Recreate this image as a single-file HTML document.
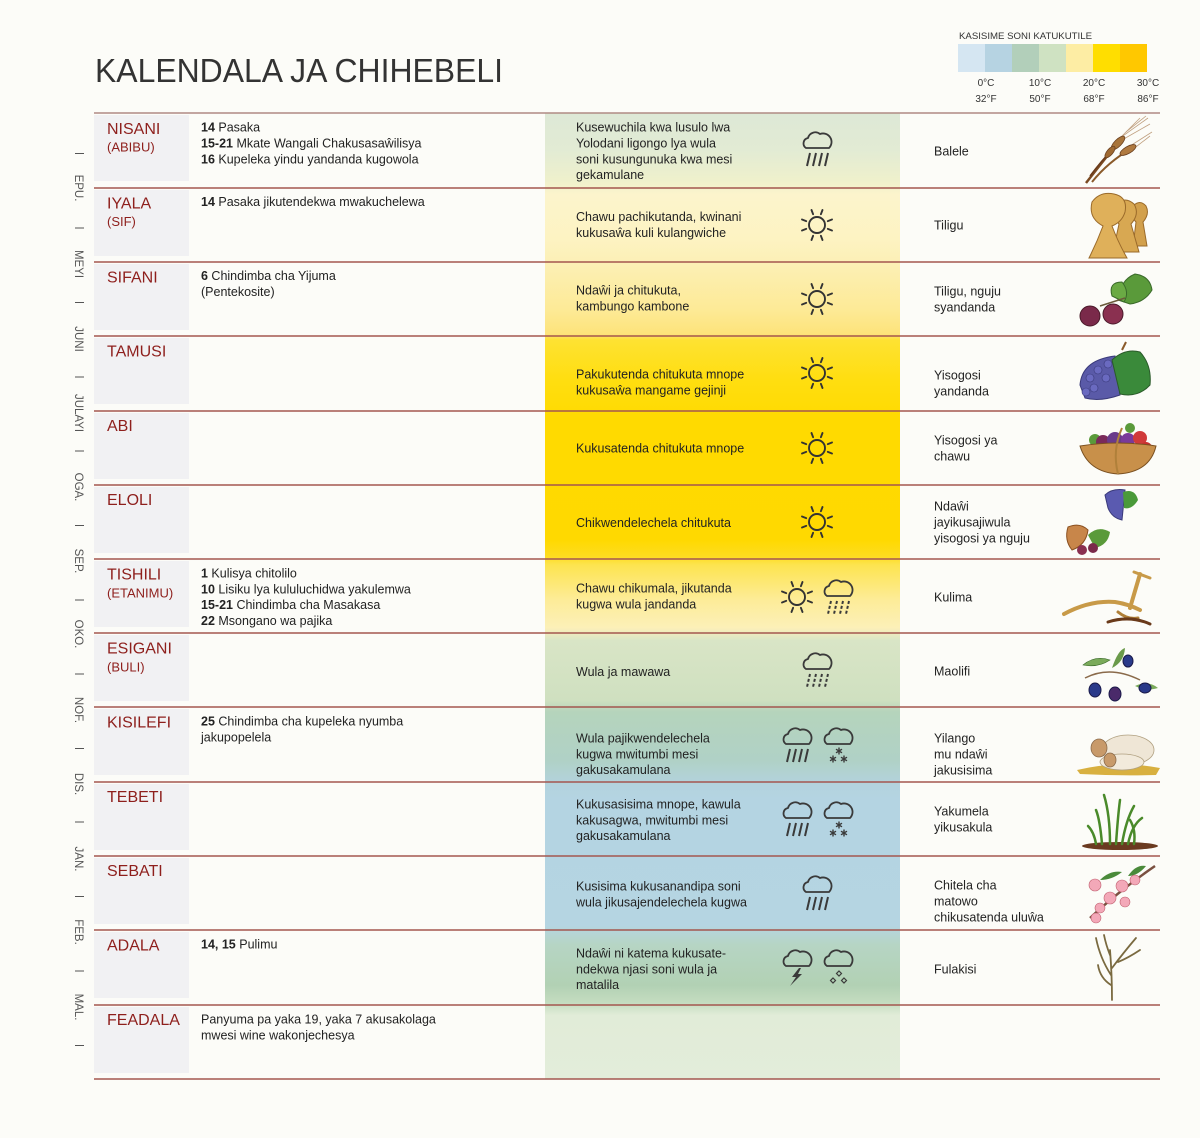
<!DOCTYPE html>
<html><head><meta charset="utf-8">
<style>
html,body{margin:0;padding:0;background:#fcfcf8;}
svg{display:block}
text{font-family:"Liberation Sans",sans-serif;}
.t{font-size:12.5px;fill:#222;}
.m{font-size:16px;fill:#8e1f1c;}
.s{font-size:13px;fill:#8e1f1c;}
.v{font-size:11.5px;fill:#555;}
.lg{font-size:10px;fill:#333;}
</style></head><body>
<svg width="1200" height="1138" viewBox="0 0 1200 1138" xmlns="http://www.w3.org/2000/svg">
<defs>
<linearGradient id="clim" gradientUnits="userSpaceOnUse" x1="0" y1="113" x2="0" y2="1079">
<stop offset="0" stop-color="#dde8d6"/>
<stop offset=".038" stop-color="#e2ebd4"/>
<stop offset=".069" stop-color="#eef0cc"/>
<stop offset=".085" stop-color="#fcf4cc"/>
<stop offset=".131" stop-color="#fdf3c2"/>
<stop offset=".154" stop-color="#fcf0b6"/>
<stop offset=".204" stop-color="#fdea96"/>
<stop offset=".229" stop-color="#fde37a"/>
<stop offset=".235" stop-color="#fee232"/>
<stop offset=".276" stop-color="#ffde10"/>
<stop offset=".318" stop-color="#ffda00"/>
<stop offset=".442" stop-color="#ffd900"/>
<stop offset=".459" stop-color="#fedc20"/>
<stop offset=".468" stop-color="#fde450"/>
<stop offset=".504" stop-color="#fdec98"/>
<stop offset=".533" stop-color="#fcf0b8"/>
<stop offset=".546" stop-color="#d9e5c6"/>
<stop offset=".608" stop-color="#cfe0c0"/>
<stop offset=".620" stop-color="#b5d4bc"/>
<stop offset=".670" stop-color="#b0d1c6"/>
<stop offset=".696" stop-color="#b3d3de"/>
<stop offset=".711" stop-color="#b4d4e2"/>
<stop offset=".841" stop-color="#b5d5e2"/>
<stop offset=".861" stop-color="#b6d5c4"/>
<stop offset=".903" stop-color="#b2d1b4"/>
<stop offset=".921" stop-color="#c4dcc0"/>
<stop offset=".934" stop-color="#e1ecd8"/>
<stop offset="1" stop-color="#e3edda"/>
</linearGradient>
<g id="sun" stroke="#333" stroke-width="1.9" fill="none" stroke-linecap="round">
<circle r="8"/>
<line x1="3.9" y1="-10.8" x2="5.5" y2="-15"/>
<line x1="-3.9" y1="-10.8" x2="-5.5" y2="-15"/>
<line x1="3.9" y1="10.8" x2="5.5" y2="15"/>
<line x1="-3.9" y1="10.8" x2="-5.5" y2="15"/>
<line x1="10.8" y1="3.9" x2="15" y2="5.5"/>
<line x1="10.8" y1="-3.9" x2="15" y2="-5.5"/>
<line x1="-10.8" y1="3.9" x2="-15" y2="5.5"/>
<line x1="-10.8" y1="-3.9" x2="-15" y2="-5.5"/>
</g>
<path id="cl" d="M -11 0 A 5.5 5.5 0 0 1 -9 -10 A 7.5 7.5 0 0 1 3 -14 A 8.5 8.5 0 0 1 12 0 Z" fill="none" stroke="#3a3a3a" stroke-width="1.8" stroke-linejoin="round"/>
<g id="rain" stroke="#3a3a3a" stroke-width="2" stroke-linecap="butt">
<line x1="-7" y1="5" x2="-10" y2="18"/>
<line x1="-1" y1="5" x2="-4" y2="18"/>
<line x1="5" y1="5" x2="2" y2="18"/>
<line x1="11" y1="5" x2="8" y2="18"/>
</g>
<g id="drz" stroke="#3a3a3a" stroke-width="2" stroke-dasharray="3 2">
<line x1="-7" y1="5" x2="-10" y2="18"/>
<line x1="-1" y1="5" x2="-4" y2="18"/>
<line x1="5" y1="5" x2="2" y2="18"/>
<line x1="11" y1="5" x2="8" y2="18"/>
</g>
<g id="ast" stroke="#3a3a3a" stroke-width="1.4">
<line x1="0" y1="-3.5" x2="0" y2="3.5"/>
<line x1="-3" y1="-1.8" x2="3" y2="1.8"/>
<line x1="-3" y1="1.8" x2="3" y2="-1.8"/>
</g>
<g id="snow"><use href="#ast" x="1" y="7"/><use href="#ast" x="-5" y="15"/><use href="#ast" x="6" y="15"/></g>
</defs>

<rect width="1200" height="1138" fill="#fcfcf8"/>

<!-- Title -->
<text x="95" y="82" font-size="33" fill="#333" textLength="408" lengthAdjust="spacingAndGlyphs">KALENDALA JA CHIHEBELI</text>

<!-- Legend -->
<text x="959" y="39" font-size="9.2" fill="#333" textLength="133" lengthAdjust="spacingAndGlyphs">KASISIME SONI KATUKUTILE</text>
<rect x="958" y="44" width="27" height="28" fill="#d5e6f2"/>
<rect x="985" y="44" width="27" height="28" fill="#b6d3e2"/>
<rect x="1012" y="44" width="27" height="28" fill="#b2cfba"/>
<rect x="1039" y="44" width="27" height="28" fill="#cfe2c2"/>
<rect x="1066" y="44" width="27" height="28" fill="#fdeda4"/>
<rect x="1093" y="44" width="27" height="28" fill="#ffde00"/>
<rect x="1120" y="44" width="27" height="28" fill="#ffc800"/>
<g class="lg" text-anchor="middle">
<text x="986" y="86" class="lg">0°C</text><text x="986" y="102" class="lg">32°F</text>
<text x="1040" y="86" class="lg">10°C</text><text x="1040" y="102" class="lg">50°F</text>
<text x="1094" y="86" class="lg">20°C</text><text x="1094" y="102" class="lg">68°F</text>
<text x="1148" y="86" class="lg">30°C</text><text x="1148" y="102" class="lg">86°F</text>
</g>

<!-- Climate column -->
<rect x="545" y="113" width="355" height="966" fill="url(#clim)"/>

<!-- Grey month boxes -->
<g fill="#f1f1f3">
<rect x="94" y="115" width="95" height="66"/>
<rect x="94" y="190" width="95" height="66"/>
<rect x="94" y="264" width="95" height="66"/>
<rect x="94" y="338" width="95" height="66"/>
<rect x="94" y="413" width="95" height="66"/>
<rect x="94" y="487" width="95" height="66"/>
<rect x="94" y="561" width="95" height="66"/>
<rect x="94" y="635" width="95" height="66"/>
<rect x="94" y="709" width="95" height="66"/>
<rect x="94" y="784" width="95" height="66"/>
<rect x="94" y="858" width="95" height="66"/>
<rect x="94" y="932" width="95" height="66"/>
<rect x="94" y="1007" width="95" height="66"/>
</g>

<!-- Row lines -->
<g stroke="#a4564f" stroke-width="1.5">
<line x1="94" y1="113" x2="1160" y2="113" stroke="#b08a84"/>
<line x1="94" y1="188" x2="1160" y2="188"/>
<line x1="94" y1="262" x2="1160" y2="262"/>
<line x1="94" y1="336" x2="1160" y2="336"/>
<line x1="94" y1="411" x2="1160" y2="411"/>
<line x1="94" y1="485" x2="1160" y2="485"/>
<line x1="94" y1="559" x2="1160" y2="559"/>
<line x1="94" y1="633" x2="1160" y2="633"/>
<line x1="94" y1="707" x2="1160" y2="707"/>
<line x1="94" y1="782" x2="1160" y2="782"/>
<line x1="94" y1="856" x2="1160" y2="856"/>
<line x1="94" y1="930" x2="1160" y2="930"/>
<line x1="94" y1="1005" x2="1160" y2="1005"/>
<line x1="94" y1="1079" x2="1160" y2="1079"/>
</g>

<!-- Vertical month labels + ticks -->
<g stroke="#555" stroke-width="1">
<line x1="75" y1="153.5" x2="84" y2="153.5"/>
<line x1="75" y1="228" x2="84" y2="228"/>
<line x1="75" y1="302.5" x2="84" y2="302.5"/>
<line x1="75" y1="377" x2="84" y2="377"/>
<line x1="75" y1="451" x2="84" y2="451"/>
<line x1="75" y1="525.5" x2="84" y2="525.5"/>
<line x1="75" y1="600" x2="84" y2="600"/>
<line x1="75" y1="674" x2="84" y2="674"/>
<line x1="75" y1="748.5" x2="84" y2="748.5"/>
<line x1="75" y1="822" x2="84" y2="822"/>
<line x1="75" y1="896.5" x2="84" y2="896.5"/>
<line x1="75" y1="971" x2="84" y2="971"/>
<line x1="75" y1="1045.5" x2="84" y2="1045.5"/>
</g>
<g class="v" text-anchor="middle">
<text class="v" transform="translate(75,188) rotate(90)">EPU.</text>
<text class="v" transform="translate(75,264) rotate(90)">MEYI</text>
<text class="v" transform="translate(75,339) rotate(90)">JUNI</text>
<text class="v" transform="translate(75,413) rotate(90)">JULAYI</text>
<text class="v" transform="translate(75,487) rotate(90)">OGA.</text>
<text class="v" transform="translate(75,561) rotate(90)">SEP.</text>
<text class="v" transform="translate(75,634) rotate(90)">OKO.</text>
<text class="v" transform="translate(75,710) rotate(90)">NOF.</text>
<text class="v" transform="translate(75,784) rotate(90)">DIS.</text>
<text class="v" transform="translate(75,859) rotate(90)">JAN.</text>
<text class="v" transform="translate(75,932) rotate(90)">FEB.</text>
<text class="v" transform="translate(75,1007) rotate(90)">MAL.</text>
</g>

<!-- Month names -->
<text class="m" x="107" y="134">NISANI</text><text class="s" x="107" y="151.5">(ABIBU)</text>
<text class="m" x="107" y="208.5">IYALA</text><text class="s" x="107" y="226">(SIF)</text>
<text class="m" x="107" y="282.5">SIFANI</text>
<text class="m" x="107" y="356.5">TAMUSI</text>
<text class="m" x="107" y="431">ABI</text>
<text class="m" x="107" y="505">ELOLI</text>
<text class="m" x="107" y="579.5">TISHILI</text><text class="s" x="107" y="597.5">(ETANIMU)</text>
<text class="m" x="107" y="653.5">ESIGANI</text><text class="s" x="107" y="671.5">(BULI)</text>
<text class="m" x="107" y="727.5">KISILEFI</text>
<text class="m" x="107" y="802">TEBETI</text>
<text class="m" x="107" y="876">SEBATI</text>
<text class="m" x="107" y="950.5">ADALA</text>
<text class="m" x="107" y="1025">FEADALA</text>

<!-- Events -->
<text class="t" x="201" y="131.5"><tspan font-weight="bold">14</tspan> Pasaka</text>
<text class="t" x="201" y="147.5"><tspan font-weight="bold">15-21</tspan> Mkate Wangali Chakusasaŵilisya</text>
<text class="t" x="201" y="163.5"><tspan font-weight="bold">16</tspan> Kupeleka yindu yandanda kugowola</text>
<text class="t" x="201" y="206"><tspan font-weight="bold">14</tspan> Pasaka jikutendekwa mwakuchelewa</text>
<text class="t" x="201" y="280"><tspan font-weight="bold">6</tspan> Chindimba cha Yijuma</text>
<text class="t" x="201" y="296">(Pentekosite)</text>
<text class="t" x="201" y="577.5"><tspan font-weight="bold">1</tspan> Kulisya chitolilo</text>
<text class="t" x="201" y="593.5"><tspan font-weight="bold">10</tspan> Lisiku lya kululuchidwa yakulemwa</text>
<text class="t" x="201" y="609"><tspan font-weight="bold">15-21</tspan> Chindimba cha Masakasa</text>
<text class="t" x="201" y="625"><tspan font-weight="bold">22</tspan> Msongano wa pajika</text>
<text class="t" x="201" y="725.5"><tspan font-weight="bold">25</tspan> Chindimba cha kupeleka nyumba</text>
<text class="t" x="201" y="741.5">jakupopelela</text>
<text class="t" x="201" y="948.5"><tspan font-weight="bold">14, 15</tspan> Pulimu</text>
<text class="t" x="201" y="1023.5">Panyuma pa yaka 19, yaka 7 akusakolaga</text>
<text class="t" x="201" y="1039.5">mwesi wine wakonjechesya</text>

<!-- Climate text -->
<text class="t" x="576" y="131.5">Kusewuchila kwa lusulo lwa</text>
<text class="t" x="576" y="147.5">Yolodani ligongo lya wula</text>
<text class="t" x="576" y="163.5">soni kusungunuka kwa mesi</text>
<text class="t" x="576" y="179">gekamulane</text>
<text class="t" x="576" y="221">Chawu pachikutanda, kwinani</text>
<text class="t" x="576" y="237">kukusaŵa kuli kulangwiche</text>
<text class="t" x="576" y="294.5">Ndaŵi ja chitukuta,</text>
<text class="t" x="576" y="310.5">kambungo kambone</text>
<text class="t" x="576" y="378.5">Pakukutenda chitukuta mnope</text>
<text class="t" x="576" y="394.5">kukusaŵa mangame gejinji</text>
<text class="t" x="576" y="452.5">Kukusatenda chitukuta mnope</text>
<text class="t" x="576" y="527">Chikwendelechela chitukuta</text>
<text class="t" x="576" y="592.5">Chawu chikumala, jikutanda</text>
<text class="t" x="576" y="608.5">kugwa wula jandanda</text>
<text class="t" x="576" y="676">Wula ja mawawa</text>
<text class="t" x="576" y="742.5">Wula pajikwendelechela</text>
<text class="t" x="576" y="758.5">kugwa mwitumbi mesi</text>
<text class="t" x="576" y="774">gakusakamulana</text>
<text class="t" x="576" y="808.5">Kukusasisima mnope, kawula</text>
<text class="t" x="576" y="824.5">kakusagwa, mwitumbi mesi</text>
<text class="t" x="576" y="840">gakusakamulana</text>
<text class="t" x="576" y="890.5">Kusisima kukusanandipa soni</text>
<text class="t" x="576" y="906.5">wula jikusajendelechela kugwa</text>
<text class="t" x="576" y="957.5">Ndaŵi ni katema kukusate-</text>
<text class="t" x="576" y="973.5">ndekwa njasi soni wula ja</text>
<text class="t" x="576" y="989">matalila</text>

<!-- Icons -->
<g transform="translate(817,148)"><use href="#cl"/><use href="#rain"/></g>
<use href="#sun" x="817" y="225"/>
<use href="#sun" x="817" y="299"/>
<use href="#sun" x="817" y="373"/>
<use href="#sun" x="817" y="448"/>
<use href="#sun" x="817" y="522"/>
<use href="#sun" x="797" y="597"/>
<g transform="translate(838,596)"><use href="#cl"/><use href="#drz"/></g>
<g transform="translate(817,669)"><use href="#cl"/><use href="#drz"/></g>
<g transform="translate(797,744)"><use href="#cl"/><use href="#rain"/></g>
<g transform="translate(838,744)"><use href="#cl"/><use href="#snow"/></g>
<g transform="translate(797,818)"><use href="#cl"/><use href="#rain"/></g>
<g transform="translate(838,818)"><use href="#cl"/><use href="#snow"/></g>
<g transform="translate(817,892)"><use href="#cl"/><use href="#rain"/></g>
<g transform="translate(797,966)"><use href="#cl"/><path d="M2 2 L-5 11 L-1 11 L-7 20 L5 8 L1 8 L4 2 Z" fill="#3a3a3a"/></g>
<g transform="translate(838,966)"><use href="#cl"/>
<g fill="none" stroke="#3a3a3a" stroke-width="1.2">
<path d="M1 5 l2.5 2.5 l-2.5 2.5 l-2.5 -2.5 Z"/>
<path d="M-5 12 l2.5 2.5 l-2.5 2.5 l-2.5 -2.5 Z"/>
<path d="M6 12 l2.5 2.5 l-2.5 2.5 l-2.5 -2.5 Z"/>
</g></g>

<!-- Right column text -->
<text class="t" x="934" y="155.5">Balele</text>
<text class="t" x="934" y="229.5">Tiligu</text>
<text class="t" x="934" y="295.5">Tiligu, nguju</text>
<text class="t" x="934" y="311.5">syandanda</text>
<text class="t" x="934" y="379.5">Yisogosi</text>
<text class="t" x="934" y="395.5">yandanda</text>
<text class="t" x="934" y="444.5">Yisogosi ya</text>
<text class="t" x="934" y="460.5">chawu</text>
<text class="t" x="934" y="510.5">Ndaŵi</text>
<text class="t" x="934" y="526.5">jayikusajiwula</text>
<text class="t" x="934" y="542.5">yisogosi ya nguju</text>
<text class="t" x="934" y="601.5">Kulima</text>
<text class="t" x="934" y="675.5">Maolifi</text>
<text class="t" x="934" y="742.5">Yilango</text>
<text class="t" x="934" y="758.5">mu ndaŵi</text>
<text class="t" x="934" y="774.5">jakusisima</text>
<text class="t" x="934" y="815.5">Yakumela</text>
<text class="t" x="934" y="831.5">yikusakula</text>
<text class="t" x="934" y="889.5">Chitela cha</text>
<text class="t" x="934" y="905.5">matowo</text>
<text class="t" x="934" y="921.5">chikusatenda uluŵa</text>
<text class="t" x="934" y="973.5">Fulakisi</text>

<!-- Illustrations -->
<!-- Barley -->
<g>
<g stroke="#c0a080" stroke-width="0.8">
<line x1="1120" y1="138" x2="1148" y2="118"/><line x1="1122" y1="140" x2="1150" y2="124"/>
<line x1="1126" y1="132" x2="1146" y2="116"/><line x1="1132" y1="150" x2="1150" y2="136"/>
<line x1="1130" y1="146" x2="1152" y2="132"/><line x1="1116" y1="142" x2="1140" y2="118"/>
</g>
<path d="M1086 183 Q1100 165 1120 140" stroke="#7a4a22" stroke-width="2.5" fill="none"/>
<path d="M1092 182 Q1108 162 1132 148" stroke="#8a5a2a" stroke-width="2" fill="none"/>
<path d="M1090 176 Q1102 160 1112 150" stroke="#6a3a1a" stroke-width="1.5" fill="none"/>
<ellipse cx="1118" cy="143" rx="9" ry="3.5" fill="#a8743a" stroke="#6a4020" stroke-width=".8" transform="rotate(-45 1118 143)"/>
<ellipse cx="1128" cy="150" rx="9" ry="3.5" fill="#b07a40" stroke="#6a4020" stroke-width=".8" transform="rotate(-30 1128 150)"/>
<ellipse cx="1110" cy="152" rx="7" ry="3" fill="#a06a32" stroke="#6a4020" stroke-width=".8" transform="rotate(-50 1110 152)"/>
</g>
<!-- Sheaves -->
<g stroke="#9a6a2a" stroke-width="1">
<path d="M1133 246 L1136 222 Q1128 214 1133 206 Q1140 199 1146 206 Q1150 214 1143 222 L1147 246 Z" fill="#d2a04c"/>
<path d="M1113 252 L1119 224 Q1110 214 1116 204 Q1125 196 1134 204 Q1140 214 1131 224 L1139 252 Z" fill="#d8a852"/>
<path d="M1089 258 Q1097 242 1103 226 Q1088 218 1092 202 Q1100 191 1114 194 Q1128 197 1125 212 Q1122 222 1112 226 Q1118 242 1127 258 Z" fill="#dfb05a"/>
</g>
<!-- Figs -->
<g>
<path d="M1118 300 Q1120 280 1135 274 Q1150 276 1152 290 Q1145 302 1130 304 Z" fill="#5a9a3a" stroke="#3a6a2a"/>
<path d="M1112 296 Q1108 282 1122 282 Q1130 292 1124 302 Z" fill="#6aaa44" stroke="#3a6a2a"/>
<line x1="1100" y1="306" x2="1125" y2="298" stroke="#6a5a3a" stroke-width="1.5"/>
<circle cx="1090" cy="316" r="10" fill="#7a2a4a" stroke="#4a1a2a"/>
<circle cx="1113" cy="314" r="10" fill="#8a3050" stroke="#4a1a2a"/>
</g>
<!-- Grapes -->
<g>
<path d="M1080 385 Q1082 360 1115 356 L1120 395 Q1100 402 1085 398 Z" fill="#5a5aa8" stroke="#3a3a7a"/>
<g fill="#6a6ac0" stroke="#3a3a7a" stroke-width=".6">
<circle cx="1090" cy="378" r="4"/><circle cx="1098" cy="370" r="4"/><circle cx="1106" cy="378" r="4"/>
<circle cx="1094" cy="388" r="4"/><circle cx="1108" cy="364" r="4"/><circle cx="1086" cy="392" r="4"/>
</g>
<path d="M1112 360 Q1125 348 1140 352 Q1152 365 1150 385 Q1138 398 1120 394 Z" fill="#3a8a3a" stroke="#2a5a2a"/>
<line x1="1122" y1="350" x2="1126" y2="342" stroke="#8a5a2a" stroke-width="2"/>
</g>
<!-- Basket -->
<g>
<circle cx="1095" cy="440" r="6" fill="#5a9a3a"/>
<circle cx="1103" cy="442" r="7" fill="#7a2a5a"/>
<circle cx="1115" cy="440" r="8" fill="#6a3a8a"/>
<circle cx="1128" cy="440" r="7" fill="#7a3a9a"/>
<circle cx="1140" cy="438" r="7" fill="#d03a3a"/>
<circle cx="1146" cy="448" r="6" fill="#c83030"/>
<circle cx="1130" cy="428" r="5" fill="#5a9a3a"/>
<path d="M1080 446 Q1118 440 1156 446 Q1150 472 1118 474 Q1088 472 1080 446 Z" fill="#c8904a" stroke="#7a5020"/>
<path d="M1118 474 Q1112 450 1122 428" stroke="#b0803a" stroke-width="2" fill="none"/>
</g>
<!-- Grapes + dates -->
<g>
<path d="M1105 495 Q1112 488 1125 490 L1122 520 Q1112 518 1108 508 Z" fill="#5a5ab0" stroke="#3a3a7a"/>
<path d="M1123 492 Q1135 488 1138 500 Q1132 510 1124 508 Z" fill="#4a9a3a"/>
<path d="M1068 527 Q1080 522 1088 530 Q1086 545 1072 550 Q1064 540 1068 527 Z" fill="#c8864a" stroke="#8a5020"/>
<path d="M1088 535 Q1098 525 1110 532 Q1108 545 1095 548 Z" fill="#5a9a3a"/>
<circle cx="1082" cy="550" r="5" fill="#8a3050"/><circle cx="1093" cy="548" r="5" fill="#7a2a4a"/>
</g>
<!-- Plough -->
<g fill="none" stroke="#8a5a20" stroke-linecap="round">
<path d="M1064 614 Q1090 600 1115 602 Q1128 604 1140 610" stroke-width="4" stroke="#c89a48"/>
<path d="M1130 608 L1140 574" stroke-width="4" stroke="#c89a48"/>
<path d="M1134 572 L1150 578" stroke-width="3" stroke="#c89a48"/>
<path d="M1118 612 Q1128 620 1138 618" stroke-width="3" stroke="#b08038"/>
<path d="M1108 622 Q1130 615 1150 624" stroke-width="3" stroke="#6a3a1a"/>
</g>
<!-- Olives -->
<g>
<path d="M1085 678 Q1110 665 1140 680" stroke="#8a6a4a" stroke-width="1.5" fill="none"/>
<path d="M1083 665 Q1095 655 1110 660 Q1098 668 1083 665 Z" fill="#7aaa5a" stroke="#3a6a2a" stroke-width=".6"/>
<path d="M1112 668 Q1118 650 1125 648 Q1124 662 1112 668 Z" fill="#6a9a4a"/>
<path d="M1135 686 Q1148 680 1158 688 Q1146 692 1135 686 Z" fill="#7aaa5a"/>
<ellipse cx="1095" cy="690" rx="6" ry="7" fill="#2a3a8a" stroke="#1a1a4a"/>
<ellipse cx="1115" cy="694" rx="6" ry="7" fill="#4a2a6a" stroke="#1a1a4a"/>
<ellipse cx="1128" cy="661" rx="5" ry="6" fill="#2a3a8a" stroke="#1a1a4a"/>
<ellipse cx="1145" cy="688" rx="6" ry="5" fill="#2a3a8a" stroke="#1a1a4a"/>
</g>
<!-- Sheep -->
<g>
<path d="M1077 770 Q1118 760 1160 768 L1156 775 Q1118 776 1080 774 Z" fill="#d8b040"/>
<ellipse cx="1128" cy="750" rx="26" ry="15" fill="#efe6d6" stroke="#b0a080" stroke-width=".8"/>
<ellipse cx="1122" cy="762" rx="22" ry="8" fill="#f2eadb" stroke="#b0a080" stroke-width=".8"/>
<ellipse cx="1099" cy="748" rx="8" ry="9" fill="#c89a6a" stroke="#8a6a4a" stroke-width=".8"/>
<ellipse cx="1110" cy="760" rx="6" ry="7" fill="#c89a6a" stroke="#8a6a4a" stroke-width=".8"/>
</g>
<!-- Grass -->
<g>
<ellipse cx="1120" cy="846" rx="38" ry="4" fill="#6a3a20"/>
<g stroke="#4a8a2a" stroke-width="2.5" fill="none" stroke-linecap="round">
<path d="M1102 844 Q1100 820 1096 810"/><path d="M1110 844 Q1110 815 1104 795"/>
<path d="M1116 844 Q1118 815 1120 800"/><path d="M1122 844 Q1126 820 1134 806"/>
<path d="M1128 844 Q1132 825 1142 818"/><path d="M1096 844 Q1094 832 1088 826"/>
<path d="M1134 844 Q1136 830 1130 820"/>
</g>
</g>
<!-- Blossoms -->
<g>
<path d="M1090 918 Q1120 890 1155 866" stroke="#7a5040" stroke-width="2.5" fill="none"/>
<path d="M1100 880 Q1110 870 1122 872 Q1112 880 1100 880 Z" fill="#4a8a3a"/>
<path d="M1128 876 Q1136 864 1146 866 Q1138 876 1128 876 Z" fill="#4a8a3a"/>
<g fill="#f3a8b8" stroke="#c06070" stroke-width=".6">
<circle cx="1095" cy="885" r="6"/><circle cx="1110" cy="898" r="6"/><circle cx="1122" cy="886" r="6"/>
<circle cx="1135" cy="880" r="5"/><circle cx="1100" cy="908" r="5"/><circle cx="1096" cy="918" r="5"/>
<circle cx="1125" cy="902" r="5"/>
</g>
</g>
<!-- Flax -->
<g stroke="#7a6a40" stroke-width="1.8" fill="none" stroke-linecap="round">
<path d="M1112 1000 Q1112 975 1110 950"/>
<path d="M1111 975 Q1100 958 1096 938"/>
<path d="M1112 968 Q1124 952 1136 938"/>
<path d="M1110 955 Q1106 945 1104 935"/>
<path d="M1118 962 Q1128 958 1140 950"/>
<path d="M1111 985 Q1100 978 1098 965"/>
</g>
</svg>
</body></html>
